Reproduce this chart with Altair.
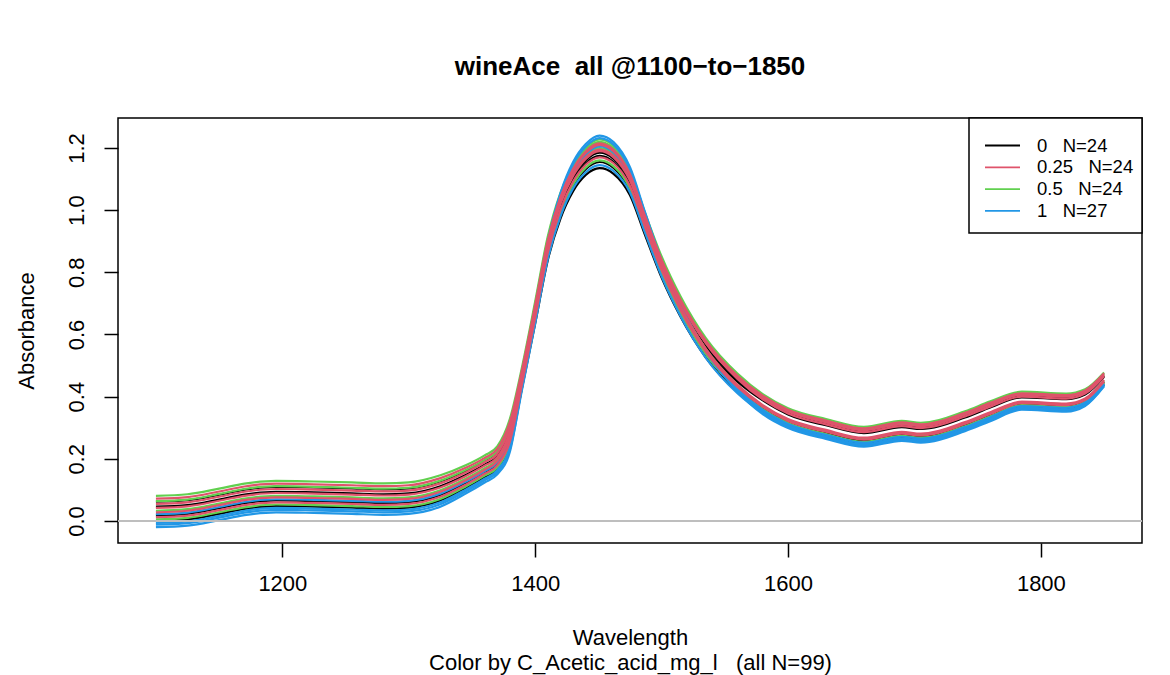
import altair as alt
import pandas as pd

# ---- data ----
WAVELENGTHS = [1100, 1125, 1150, 1170, 1195, 1225, 1255, 1280, 1300, 1325,
               1345, 1360, 1370, 1380, 1390, 1400, 1410, 1420, 1430, 1440,
               1451, 1462, 1475, 1487, 1500, 1515, 1535, 1560, 1580, 1600,
               1630, 1660, 1690, 1705, 1740, 1760, 1785, 1820, 1835, 1850]

GROUPS = ["0", "0.25", "0.5", "1"]
GROUP_N = [24, 24, 24, 27]

CURVES_0 = [
    [0.062, 0.067, 0.085, 0.101, 0.110, 0.108, 0.105, 0.102, 0.105, 0.128,
     0.162, 0.195, 0.223, 0.309, 0.481, 0.677, 0.879, 1.011, 1.097, 1.151,
     1.175, 1.155, 1.082, 0.951, 0.817, 0.693, 0.564, 0.455, 0.393, 0.348,
     0.313, 0.288, 0.307, 0.301, 0.338, 0.370, 0.402, 0.396, 0.411, 0.468],
    [0.046, 0.051, 0.069, 0.085, 0.094, 0.092, 0.089, 0.086, 0.089, 0.112,
     0.148, 0.181, 0.209, 0.292, 0.468, 0.662, 0.863, 0.994, 1.079, 1.132,
     1.155, 1.136, 1.065, 0.937, 0.805, 0.683, 0.555, 0.448, 0.388, 0.343,
     0.308, 0.283, 0.302, 0.296, 0.333, 0.365, 0.398, 0.392, 0.407, 0.464],
    [0.018, 0.023, 0.041, 0.057, 0.066, 0.064, 0.061, 0.058, 0.061, 0.084,
     0.122, 0.157, 0.184, 0.262, 0.457, 0.663, 0.874, 1.015, 1.106, 1.160,
     1.185, 1.165, 1.091, 0.955, 0.814, 0.682, 0.545, 0.429, 0.363, 0.318,
     0.283, 0.258, 0.277, 0.271, 0.308, 0.340, 0.375, 0.369, 0.386, 0.447],
    [0.000, 0.005, 0.023, 0.039, 0.048, 0.046, 0.043, 0.040, 0.043, 0.066,
     0.106, 0.141, 0.168, 0.244, 0.436, 0.636, 0.840, 0.973, 1.061, 1.113,
     1.135, 1.117, 1.048, 0.919, 0.783, 0.657, 0.526, 0.415, 0.353, 0.308,
     0.273, 0.248, 0.267, 0.261, 0.298, 0.330, 0.366, 0.360, 0.377, 0.440],
]

CURVES_025 = [
    [0.072, 0.077, 0.095, 0.111, 0.120, 0.118, 0.115, 0.112, 0.115, 0.138,
     0.171, 0.203, 0.232, 0.319, 0.494, 0.695, 0.903, 1.040, 1.128, 1.184,
     1.210, 1.189, 1.112, 0.977, 0.839, 0.712, 0.580, 0.467, 0.403, 0.358,
     0.323, 0.298, 0.317, 0.311, 0.348, 0.380, 0.411, 0.405, 0.420, 0.475],
    [0.055, 0.060, 0.078, 0.094, 0.103, 0.101, 0.098, 0.095, 0.098, 0.121,
     0.156, 0.189, 0.217, 0.301, 0.481, 0.682, 0.889, 1.027, 1.115, 1.170,
     1.195, 1.175, 1.099, 0.966, 0.829, 0.703, 0.572, 0.460, 0.397, 0.352,
     0.317, 0.292, 0.311, 0.305, 0.342, 0.374, 0.406, 0.400, 0.415, 0.470],
    [0.028, 0.033, 0.051, 0.067, 0.076, 0.074, 0.071, 0.068, 0.071, 0.094,
     0.131, 0.165, 0.193, 0.273, 0.464, 0.669, 0.880, 1.020, 1.110, 1.165,
     1.190, 1.170, 1.095, 0.960, 0.819, 0.689, 0.554, 0.438, 0.373, 0.328,
     0.293, 0.268, 0.287, 0.281, 0.318, 0.350, 0.384, 0.378, 0.394, 0.454],
    [0.012, 0.017, 0.035, 0.051, 0.060, 0.058, 0.055, 0.052, 0.055, 0.078,
     0.117, 0.152, 0.179, 0.256, 0.450, 0.655, 0.864, 1.002, 1.092, 1.146,
     1.170, 1.151, 1.078, 0.945, 0.807, 0.678, 0.544, 0.431, 0.367, 0.322,
     0.287, 0.262, 0.281, 0.275, 0.312, 0.344, 0.379, 0.373, 0.389, 0.449],
    [0.042, 0.047, 0.065, 0.081, 0.090, 0.088, 0.085, 0.082, 0.085, 0.108,
     0.144, 0.178, 0.205, 0.288, 0.477, 0.685, 0.898, 1.041, 1.133, 1.189,
     1.215, 1.194, 1.116, 0.979, 0.839, 0.708, 0.572, 0.457, 0.391, 0.346,
     0.311, 0.286, 0.305, 0.299, 0.336, 0.368, 0.400, 0.394, 0.410, 0.466],
]

CURVES_05 = [
    [0.081, 0.086, 0.104, 0.120, 0.129, 0.127, 0.124, 0.121, 0.124, 0.147,
     0.179, 0.211, 0.240, 0.329, 0.503, 0.706, 0.916, 1.056, 1.144, 1.201,
     1.228, 1.207, 1.127, 0.990, 0.851, 0.722, 0.588, 0.474, 0.408, 0.363,
     0.328, 0.303, 0.322, 0.316, 0.353, 0.385, 0.416, 0.410, 0.424, 0.478],
    [0.064, 0.069, 0.087, 0.103, 0.112, 0.110, 0.107, 0.104, 0.107, 0.130,
     0.164, 0.196, 0.225, 0.311, 0.491, 0.696, 0.907, 1.047, 1.137, 1.194,
     1.220, 1.199, 1.121, 0.984, 0.844, 0.715, 0.580, 0.466, 0.400, 0.355,
     0.320, 0.295, 0.314, 0.308, 0.345, 0.377, 0.409, 0.403, 0.417, 0.473],
    [0.033, 0.038, 0.056, 0.072, 0.081, 0.079, 0.076, 0.073, 0.076, 0.099,
     0.136, 0.170, 0.197, 0.278, 0.469, 0.675, 0.887, 1.028, 1.119, 1.175,
     1.200, 1.180, 1.104, 0.967, 0.824, 0.692, 0.554, 0.437, 0.370, 0.325,
     0.290, 0.265, 0.284, 0.278, 0.315, 0.347, 0.382, 0.376, 0.392, 0.452],
    [0.005, 0.010, 0.028, 0.044, 0.053, 0.051, 0.048, 0.045, 0.048, 0.071,
     0.111, 0.146, 0.172, 0.249, 0.444, 0.648, 0.856, 0.994, 1.083, 1.137,
     1.160, 1.141, 1.070, 0.938, 0.799, 0.671, 0.537, 0.424, 0.360, 0.315,
     0.280, 0.255, 0.274, 0.268, 0.305, 0.337, 0.373, 0.367, 0.383, 0.445],
]

CURVES_1 = [
    [-0.020, -0.015, 0.003, 0.019, 0.028, 0.026, 0.023, 0.020, 0.023, 0.046,
     0.088, 0.124, 0.150, 0.223, 0.445, 0.670, 0.898, 1.055, 1.155, 1.213,
     1.240, 1.219, 1.138, 0.992, 0.838, 0.695, 0.546, 0.417, 0.344, 0.299,
     0.264, 0.239, 0.258, 0.252, 0.289, 0.321, 0.358, 0.352, 0.370, 0.433],
    [-0.012, -0.007, 0.011, 0.027, 0.036, 0.034, 0.031, 0.028, 0.031, 0.054,
     0.095, 0.131, 0.157, 0.231, 0.431, 0.635, 0.843, 0.980, 1.070, 1.122,
     1.145, 1.126, 1.057, 0.926, 0.787, 0.659, 0.525, 0.411, 0.348, 0.303,
     0.268, 0.243, 0.262, 0.256, 0.293, 0.325, 0.362, 0.356, 0.373, 0.436],
    [-0.006, -0.001, 0.017, 0.033, 0.042, 0.040, 0.037, 0.034, 0.037, 0.060,
     0.101, 0.136, 0.163, 0.237, 0.452, 0.672, 0.896, 1.050, 1.148, 1.205,
     1.232, 1.211, 1.131, 0.987, 0.836, 0.695, 0.549, 0.424, 0.352, 0.307,
     0.272, 0.247, 0.266, 0.260, 0.297, 0.329, 0.365, 0.359, 0.376, 0.439],
    [0.022, 0.027, 0.045, 0.061, 0.070, 0.068, 0.065, 0.062, 0.065, 0.088,
     0.126, 0.160, 0.188, 0.267, 0.463, 0.673, 0.887, 1.031, 1.124, 1.179,
     1.205, 1.185, 1.108, 0.969, 0.823, 0.687, 0.546, 0.425, 0.357, 0.312,
     0.277, 0.252, 0.271, 0.265, 0.302, 0.334, 0.370, 0.364, 0.381, 0.442],
]

X_TICKS = [1200, 1400, 1600, 1800]
Y_TICKS = [0.0, 0.2, 0.4, 0.6, 0.8, 1.0, 1.2]

TITLE = "wineAce\u00a0 all @1100\u2212to\u22121850"
X_TITLE = "Wavelength"
SUBTITLE = "Color by C_Acetic_acid_mg_l\u00a0\u00a0 (all N=99)"
Y_TITLE = "Absorbance"

# ---- styling ----
COLORS = ["#000000", "#DF536B", "#61D04F", "#2297E6"]
DRAW_ORDER = ["0", "0.5", "1", "0.25"]
FONT = "Liberation Sans"
W, H = 1024, 425

# ---- long table ----
rows = []
for g, curves in zip(GROUPS, [CURVES_0, CURVES_025, CURVES_05, CURVES_1]):
    for j, vals in enumerate(curves):
        for w, v in zip(WAVELENGTHS, vals):
            rows.append({"group": g, "curve": f"{g}-{j}", "wavelength": w, "value": v})
df = pd.DataFrame(rows)

color_scale = alt.Scale(domain=GROUPS, range=COLORS)

x_enc = alt.X(
    "wavelength:Q",
    scale=alt.Scale(domain=[1070, 1880], nice=False, zero=False),
    axis=alt.Axis(
        values=X_TICKS, format="d", grid=False, domain=False,
        tickSize=14, tickWidth=1.5, tickColor="black",
        labelFontSize=22, labelFont=FONT, labelColor="black", labelPadding=16,
        labelFlush=False, labelOverlap=False,
        title=[X_TITLE, SUBTITLE], titleFontSize=22, titleFont=FONT,
        titleFontWeight="normal", titleColor="black",
        titleX=W / 2, titleY=94, titleAlign="center", titleBaseline="middle",
        titleLineHeight=25,
    ),
)
y_axis = alt.Axis(
    values=Y_TICKS, format=".1f", grid=False, domain=False,
    tickSize=14, tickWidth=1.5, tickColor="black",
    labelFontSize=22, labelFont=FONT, labelColor="black",
    labelAngle=270, labelAlign="center", labelBaseline="alphabetic",
    labelPadding=21, labelOverlap=False, labelFlush=False,
    title=Y_TITLE, titleFontSize=22, titleFont=FONT,
    titleFontWeight="normal", titleColor="black",
    titleAngle=270, titleX=-92, titleY=H / 2,
    titleAlign="center", titleBaseline="middle",
)
y_scale = alt.Scale(domain=[-0.0708, 1.2965], nice=False, zero=False)
y_enc = alt.Y("value:Q", scale=y_scale, axis=y_axis)

base = alt.Chart(df).mark_line(interpolate="monotone", strokeWidth=2.2).encode(
    x=x_enc,
    y=y_enc,
    color=alt.Color("group:N", scale=color_scale, legend=None),
    detail="curve:N",
)
line_layers = [base.transform_filter(alt.datum.group == g) for g in DRAW_ORDER]

zero_rule = alt.Chart(pd.DataFrame({"value": [0.0]})).mark_rule(
    color="#BEBEBE", strokeWidth=2
).encode(y=alt.Y("value:Q", scale=y_scale, axis=y_axis), x=alt.value(0), x2=alt.value(W))

# ---- legend drawn by hand (R-style boxed legend) ----
legend_box = alt.Chart(pd.DataFrame({"k": [0]})).mark_rect(
    fill="white", stroke="black", strokeWidth=1.5
).encode(x=alt.value(851), x2=alt.value(W), y=alt.value(0), y2=alt.value(115))

legend_layers = []
for i, (g, n) in enumerate(zip(GROUPS, GROUP_N)):
    ypix = 27.5 + 21.8 * i
    row = pd.DataFrame({"group": [g], "label": [f"{g}\u00a0\u00a0\u00a0N={n}"]})
    legend_layers.append(
        alt.Chart(row).mark_rule(strokeWidth=1.8).encode(
            x=alt.value(867), x2=alt.value(902), y=alt.value(ypix),
            color=alt.Color("group:N", scale=color_scale, legend=None),
        )
    )
    legend_layers.append(
        alt.Chart(row).mark_text(
            align="left", baseline="middle", fontSize=18.5, font=FONT, color="black"
        ).encode(x=alt.value(919), y=alt.value(ypix), text="label:N")
    )

chart = alt.layer(*line_layers, zero_rule, legend_box, *legend_layers).properties(
    width=W,
    height=H,
    background="white",
    padding={"left": 118, "top": 118, "right": 28, "bottom": 132},
    autosize=alt.AutoSizeParams(type="none"),
    title=alt.TitleParams(
        text=TITLE, font=FONT, fontSize=26, fontWeight="bold", color="black",
        anchor="middle", frame="group", baseline="alphabetic", offset=16,
    ),
).configure_view(stroke="black", strokeWidth=1.5)

chart.save("out.html", embed_options={"renderer": "svg", "actions": False})
